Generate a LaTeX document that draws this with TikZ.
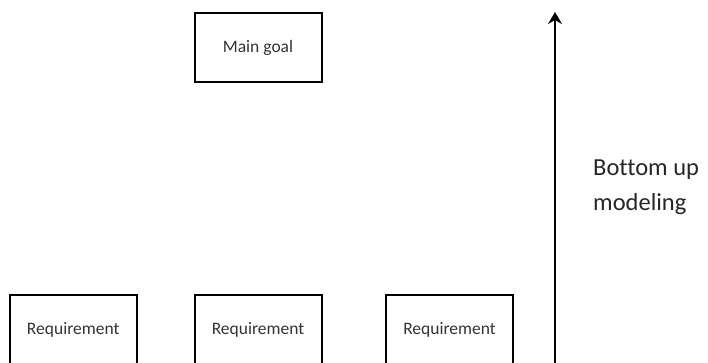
\documentclass[tikz,border=0pt]{standalone}
\usepackage{fontspec}
\setmainfont{Carlito}[Ligatures={NoCommon}]
\usetikzlibrary{arrows.meta}
\begin{document}
\begin{tikzpicture}[x=1pt,y=-1pt,
  goalbox/.style={draw=black,line width=2pt,minimum width=127pt,minimum height=69pt,
    inner sep=0pt,font=\fontsize{17.5}{20}\selectfont,text=black!80},
  sidetext/.style={font=\fontsize{24.5}{35}\selectfont,text=black!85,align=left,anchor=north west,inner sep=0pt}]
  \useasboundingbox (0,0) rectangle (708,362);
  \clip (0,0) rectangle (708,362);
  % upper level
  \node[goalbox] (main) at (258,47.5) {Main goal};
  % lower level
  \node[goalbox] (req1) at (73.2,329.5) {Requirement};
  \node[goalbox] (req2) at (258,329.5) {Requirement};
  \node[goalbox] (req3) at (449.5,329.5) {Requirement};
  % direction of modeling
  \coordinate (abot) at (555,370);
  \coordinate (atop) at (555,12);
  \draw[line width=2pt,-{Stealth[length=12pt,width=14pt,inset=4pt]}] (abot) -- (atop);
  \node[sidetext] (lbl) at (593,160) {Bottom up\\modeling};
\end{tikzpicture}
\end{document}
